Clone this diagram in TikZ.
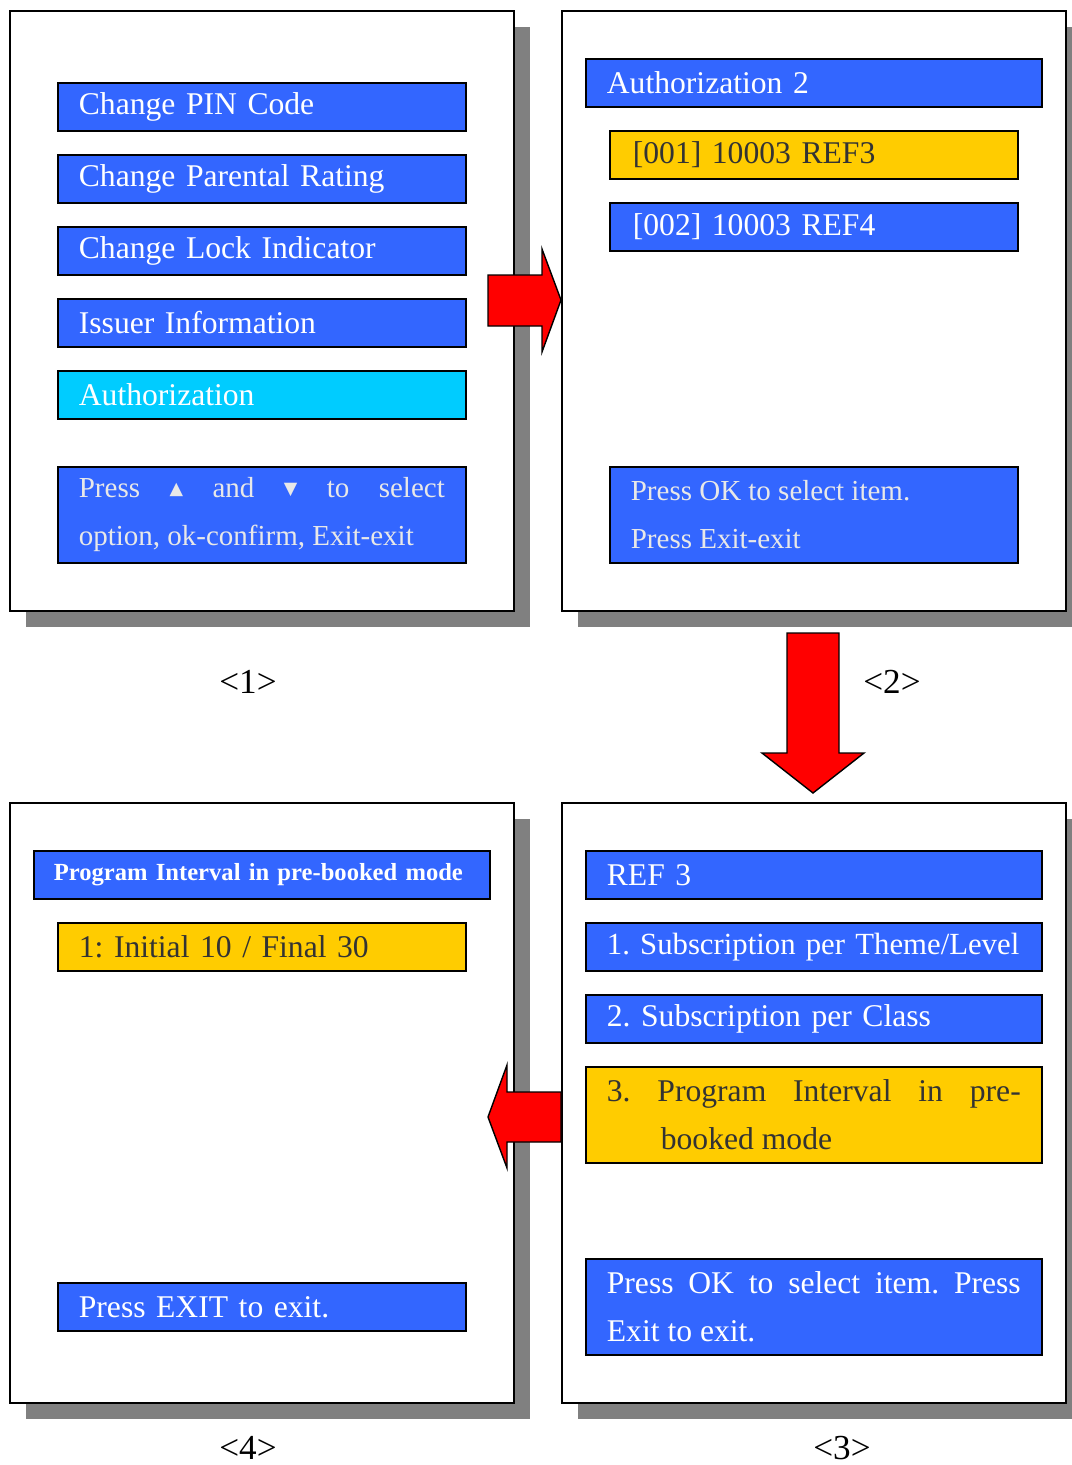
\documentclass[tikz,border=0pt]{standalone}
\usepackage{fontspec}
\setmainfont{Liberation Serif}
\newfontfamily\symfont{DejaVu Sans}
\usetikzlibrary{shadows}
\definecolor{itemblue}{HTML}{3366FF}
\definecolor{itemcyan}{HTML}{00CCFF}
\definecolor{itemyellow}{HTML}{FFCC00}
\definecolor{textdark}{HTML}{333333}
\definecolor{hintgray}{HTML}{E8E8E8}
\definecolor{shadowgray}{HTML}{808080}
\frenchspacing
\newcommand{\upkey}{\raisebox{0.12em}{\symfont\fontsize{10}{10}\selectfont ▲}}
\newcommand{\downkey}{\raisebox{0.12em}{\symfont\fontsize{10}{10}\selectfont ▼}}
\tikzset{ p/.style = { rectangle % panel
, draw
, line width = 1pt
, fill = white
, anchor = north west
, inner sep = 0pt
, minimum width = 10.08cm
, minimum height = 12cm
, drop shadow = {shadow xshift=0.33cm, shadow yshift=-0.33cm, opacity=1, fill=shadowgray}
}
, b/.style = { rectangle % menu item
, draw
, line width = 1pt
, fill = itemblue
, text = white
, anchor = north west
, inner xsep = 0.42cm
, inner ysep = 0pt
, minimum height = 0.96cm
, text width = 7.32cm
, align = left
, font = \fontsize{18}{27.2}\selectfont
}
, w/.style = { b % wide menu item
, text width = 8.28cm
}
, lbl/.style = { rectangle % screen number
, inner sep = 0pt
, font = \fontsize{20}{24}\selectfont
}
}

\begin{document}
\begin{tikzpicture}[x=0.02cm, y=-0.02cm,
        sel_style/.style={fill=itemyellow, text=textdark},
        cur_style/.style={fill=itemcyan},
        hint_style/.style={minimum height=1.92cm, align=justify, text=hintgray, font=\fontsize{16.5}{27.2}\selectfont},
        arrow_style/.style={draw=black, line width=0.8pt, fill=red}]
        \useasboundingbox (0,0) rectangle (1072,1465);

            % screens
            \node [p](p1) at (9,10) {};
            \node [p](p2) at (561,10) {};
            \node [p](p4) at (9,802) {};
            \node [p](p3) at (561,802) {};

            % screen 1
            \node [b](n11) at (57,82) {Change PIN Code};
            \node [b](n12) at (57,154) {Change Parental Rating};
            \node [b](n13) at (57,226) {Change Lock Indicator};
            \node [b](n14) at (57,298) {Issuer Information};
            \node [b,cur_style](n15) at (57,370) {Authorization};
            \node [b,hint_style](h1) at (57,466) {Press \upkey{} and \downkey{} to select\linebreak option, ok-confirm, Exit-exit};

            % screen 2
            \node [w](n21) at (585,58) {Authorization 2};
            \node [b,sel_style,inner xsep=0.46cm,text width=7.24cm](n22) at (609,130) {[001] 10003 REF3};
            \node [b,inner xsep=0.46cm,text width=7.24cm](n23) at (609,202) {[002] 10003 REF4};
            \node [b,hint_style](h2) at (609,466) {Press OK to select item.\\Press Exit-exit};

            % screen 3
            \node [w](n31) at (585,850) {REF 3};
            \node [w,font=\fontsize{17.5}{27.2}\selectfont](n32) at (585,922) {\mbox{1. Subscription per Theme/Level}};
            \node [w](n33) at (585,994) {2. Subscription per Class};
            \node [w,sel_style,minimum height=1.92cm,align=justify](n34) at (585,1066) {3. Program Interval in pre-\linebreak\hspace*{1.08cm}booked mode};
            \node [w,minimum height=1.92cm,align=justify](h3) at (585,1258) {Press OK to select item. Press\linebreak Exit to exit.};

            % screen 4
            \node [w,inner xsep=0.4cm,text width=8.32cm,font=\fontsize{14}{17}\selectfont\bfseries](n41) at (33,850) {Program Interval in pre-booked mode};
            \node [b,sel_style](n42) at (57,922) {1: Initial 10 / Final 30};
            \node [b](h4) at (57,1282) {Press EXIT to exit.};

            % screen numbers
            \node [lbl](l1) at (248,682) {<1>};
            \node [lbl](l2) at (892,682) {<2>};
            \node [lbl](l3) at (842,1448) {<3>};
            \node [lbl](l4) at (248,1448) {<4>};

            % block arrows
            \draw [arrow_style] (488,275) -- (542,275) -- (542,249) -- (561,300) -- (542,352) -- (542,326) -- (488,326) -- cycle;
            \draw [arrow_style] (787,633) -- (839,633) -- (839,753) -- (864,753) -- (813,793) -- (762,753) -- (787,753) -- cycle;
            \draw [arrow_style] (561,1092) -- (507,1092) -- (507,1065) -- (488,1117) -- (507,1168) -- (507,1142) -- (561,1142) -- cycle;

        \end{tikzpicture}
\end{document}
